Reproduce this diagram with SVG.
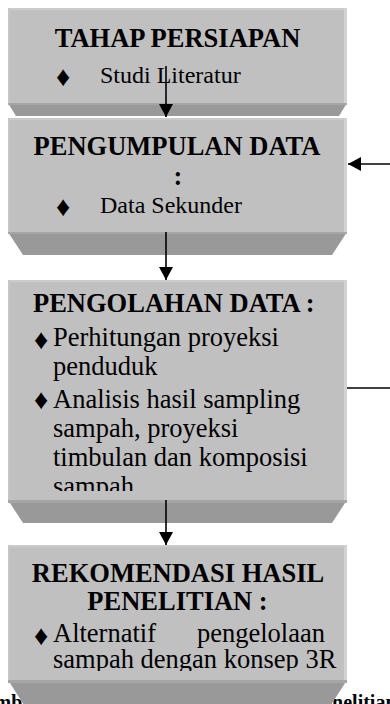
<svg xmlns="http://www.w3.org/2000/svg" width="390" height="704" viewBox="0 0 390 704">
<style>
.face{fill:#c0c0c0}
.top{fill:#cbcbcb}
.lft{fill:#c6c6c6}
.rgt{fill:#d2d2d2}
.bev{fill:#999999}
.bevt{fill:#a6a6a6}
.t{font-family:"Liberation Serif","Times New Roman",serif;fill:#000}
.b{font-weight:bold;font-size:26.5px}
.r24{font-size:24px}
.r26{font-size:26.5px}
.bul{font-family:"Liberation Serif","DejaVu Sans",serif;font-size:28px}
.cap{font-family:"Liberation Serif","Times New Roman",serif;font-weight:bold;font-size:20px;fill:#000}
.ln{stroke:#000;stroke-width:1.6;fill:none}
</style>
<defs>
<marker id="ah" viewBox="0 0 13 14" refX="13" refY="7" markerWidth="13" markerHeight="14" markerUnits="userSpaceOnUse" orient="auto">
<path d="M0,0 L13,7 L0,14 z" fill="#000"/>
</marker>
<clipPath id="c3"><rect x="8" y="285" width="340" height="206"/></clipPath>
<clipPath id="c4"><rect x="8" y="545" width="340" height="126"/></clipPath>
</defs>
<rect width="390" height="704" fill="#fff"/>

<text class="cap" x="-31" y="709">Gambar</text>
<text class="cap" x="311" y="709">Penelitian</text>

<g id="tahap-persiapan">
<polygon class="bev" points="8,103 347,103 339,116 16,116"/>
<rect class="bevt" x="8" y="103" width="339" height="2"/>
<rect class="face" x="8" y="8" width="339" height="95"/>
<rect class="top" x="8" y="8" width="339" height="2"/>
<rect class="lft" x="8" y="8" width="2" height="95"/>
<rect class="rgt" x="344" y="8" width="3" height="95"/>
<text class="t b" x="177.5" y="47" text-anchor="middle">TAHAP PERSIAPAN</text>
<text class="t bul" x="56" y="86">♦</text>
<text class="t r24" x="100" y="83">Studi Literatur</text>
</g>

<g id="pengumpulan-data">
<polygon class="bev" points="8,232 347,232 332,255 23,255"/>
<rect class="bevt" x="8" y="232" width="339" height="2"/>
<rect class="face" x="8" y="118" width="339" height="114"/>
<rect class="top" x="8" y="118" width="339" height="2"/>
<rect class="lft" x="8" y="118" width="2" height="114"/>
<rect class="rgt" x="344" y="118" width="3" height="114"/>
<text class="t b" x="177" y="155" text-anchor="middle">PENGUMPULAN DATA</text>
<text class="t b" x="178" y="185" text-anchor="middle">:</text>
<text class="t bul" x="56" y="216">♦</text>
<text class="t r24" x="100" y="213">Data Sekunder</text>
</g>

<g id="pengolahan-data">
<polygon class="bev" points="8,500 347,500 332,523 23,523"/>
<rect class="bevt" x="8" y="500" width="339" height="3"/>
<rect class="face" x="8" y="280" width="339" height="220"/>
<rect class="top" x="8" y="280" width="339" height="2"/>
<rect class="lft" x="8" y="280" width="2" height="220"/>
<rect class="rgt" x="344" y="280" width="3" height="220"/>
<text class="t b" x="33" y="312">PENGOLAHAN DATA :</text>
<text class="t bul" x="34" y="349">♦</text>
<text class="t r26" x="53" y="346">Perhitungan proyeksi</text>
<text class="t r26" x="53" y="375">penduduk</text>
<text class="t bul" x="34" y="409">♦</text>
<g clip-path="url(#c3)">
<text class="t r26" x="53" y="408">Analisis hasil sampling</text>
<text class="t r26" x="53" y="437">sampah, proyeksi</text>
<text class="t r26" x="53" y="466">timbulan dan komposisi</text>
<text class="t r26" x="53" y="495">sampah</text>
</g>
</g>

<g id="rekomendasi-hasil-penelitian">
<polygon class="bev" points="8,680 347,680 331,705 24,705"/>
<rect class="bevt" x="8" y="680" width="339" height="3"/>
<rect class="face" x="8" y="545" width="339" height="135"/>
<rect class="top" x="8" y="545" width="339" height="2"/>
<rect class="lft" x="8" y="545" width="2" height="135"/>
<rect class="rgt" x="344" y="545" width="3" height="135"/>
<text class="t b" x="178" y="582" text-anchor="middle">REKOMENDASI HASIL</text>
<text class="t b" x="177.5" y="610" text-anchor="middle">PENELITIAN :</text>
<text class="t bul" x="34" y="645">♦</text>
<g clip-path="url(#c4)">
<text class="t r26" y="642"><tspan x="53">Alternatif</tspan><tspan x="325" text-anchor="end">pengelolaan</tspan></text>
<text class="t r26" x="53" y="668">sampah dengan konsep 3R</text>
</g>
</g>

<g id="connectors">
<line class="ln" x1="166" y1="66" x2="166" y2="117" marker-end="url(#ah)"/>
<line class="ln" x1="166" y1="232" x2="166" y2="280" marker-end="url(#ah)"/>
<line class="ln" x1="166" y1="500" x2="166" y2="545" marker-end="url(#ah)"/>
<line class="ln" x1="390" y1="164" x2="348" y2="164" marker-end="url(#ah)"/>
<line class="ln" x1="347" y1="388" x2="390" y2="388"/>
</g>
</svg>
